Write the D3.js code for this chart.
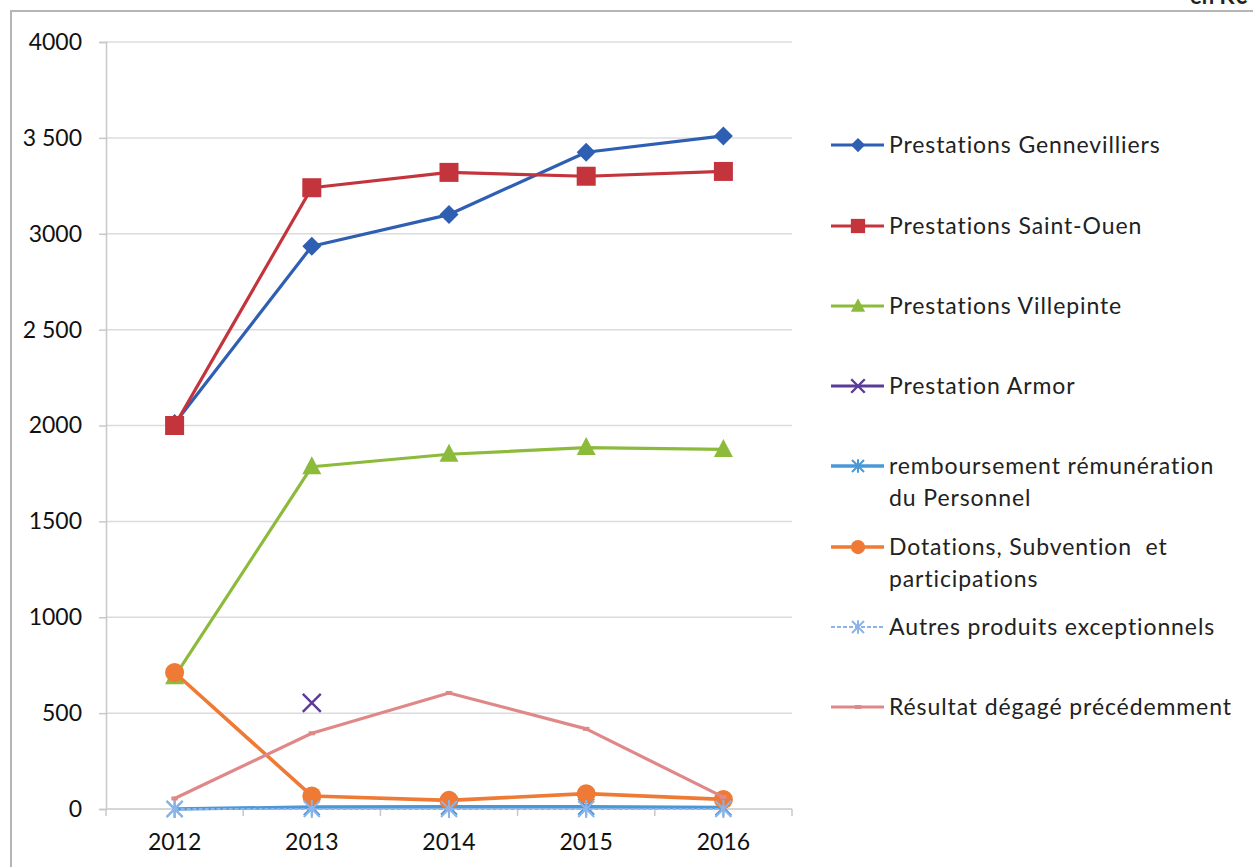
<!DOCTYPE html>
<html lang="fr">
<head>
<meta charset="utf-8">
<script src="https://cdn.jsdelivr.net/npm/d3@7"></script>
<style>
  html, body { margin: 0; padding: 0; background: #fff; }
  svg { display: block; font-family: Lato, "Open Sans", sans-serif; }
</style>
</head>
<body>
<svg id="chart" width="1253" height="867"></svg>
<script>
// Years on the category axis
const years = ["2012", "2013", "2014", "2015", "2016"];

// Values in K€
const gennevilliers = [2010, 2935, 3100, 3425, 3510];
const saintOuen     = [2000, 3240, 3320, 3300, 3325];
const villepinte    = [690, 1785, 1850, 1885, 1875];
const armor         = [null, 553, null, null, null];
const remboursement = [0, 10, 12, 12, 8];
const dotations     = [712, 68, 45, 80, 50];
const autresProduits = [0, 0, 0, 0, 0];
const resultat      = [55, 395, 605, 418, 62];

// Y axis tick values and their printed labels
const yTicks = [0, 500, 1000, 1500, 2000, 2500, 3000, 3500, 4000];
const yTickLabels = ["0", "500", "1000", "1500", "2000", "2 500", "3000", "3 500", "4000"];

const seriesNames = [
  ["Prestations Gennevilliers"],
  ["Prestations Saint-Ouen"],
  ["Prestations Villepinte"],
  ["Prestation Armor"],
  ["remboursement rémunération", "du Personnel"],
  ["Dotations, Subvention  et", "participations"],
  ["Autres produits exceptionnels"],
  ["Résultat dégagé précédemment"]
];
const seriesValues = [gennevilliers, saintOuen, villepinte, armor, remboursement, dotations, autresProduits, resultat];

// Styling per series
const styles = [
  { color: "#2f5fb3", marker: "diamond", width: 3.2 },
  { color: "#c4343c", marker: "square", width: 3.2 },
  { color: "#8cbb3c", marker: "triangle", width: 3.2 },
  { color: "#5b3a9a", marker: "cross", width: 3.2 },
  { color: "#4a98d8", marker: "asterisk", width: 3.5 },
  { color: "#ef7a35", marker: "circle", width: 3.6 },
  { color: "#8db4e8", marker: "asterisk", width: 2, dash: "4,2" },
  { color: "#e08888", marker: "dash", width: 3.2 }
];

const svg = d3.select("#chart");

// Outer frame (partially visible)
svg.append("line").attr("x1", 10).attr("x2", 1253).attr("y1", 11).attr("y2", 11)
  .attr("stroke", "#b5b5b5").attr("stroke-width", 2);
svg.append("line").attr("x1", 11).attr("x2", 11).attr("y1", 11).attr("y2", 867)
  .attr("stroke", "#b5b5b5").attr("stroke-width", 2);

// Unit label at top right, clipped by the page edge
svg.append("text").attr("x", 1190).attr("y", 4)
  .attr("font-size", 22).attr("font-weight", "bold").attr("fill", "#222")
  .text("en K€");

const plot = { left: 106, right: 792, top: 42, bottom: 809 };

const x = d3.scaleBand().domain(years).range([plot.left, plot.right]);
const xc = d => x(d) + x.bandwidth() / 2;
const y = d3.scaleLinear().domain([0, 4000]).range([plot.bottom, plot.top]);

// Horizontal gridlines
svg.append("g").selectAll("line").data(yTicks.filter(t => t > 0)).join("line")
  .attr("x1", plot.left).attr("x2", plot.right)
  .attr("y1", d => y(d)).attr("y2", d => y(d))
  .attr("stroke", "#dcdcdc").attr("stroke-width", 1.5);

// Y axis
const yAxis = svg.append("g").attr("transform", `translate(${plot.left},0)`)
  .call(d3.axisLeft(y).tickValues(yTicks).tickSize(7).tickPadding(17)
    .tickFormat((d, i) => yTickLabels[i]));
yAxis.select(".domain").attr("stroke", "#c8c8c8").attr("stroke-width", 1.5);
yAxis.selectAll(".tick line").attr("stroke", "#c8c8c8").attr("stroke-width", 1.5);
yAxis.selectAll("text").attr("font-size", 23).attr("fill", "#111")
  .attr("font-family", "Lato, sans-serif");

// X axis with tick marks between categories
const xAxisG = svg.append("g").attr("transform", `translate(0,${plot.bottom})`);
xAxisG.append("line").attr("x1", plot.left).attr("x2", plot.right)
  .attr("stroke", "#c8c8c8").attr("stroke-width", 1.5);
const bounds = years.map(d => x(d)).concat([plot.right]);
xAxisG.selectAll("line.tk").data(bounds).join("line").attr("class", "tk")
  .attr("x1", d => d).attr("x2", d => d).attr("y1", 0).attr("y2", 7)
  .attr("stroke", "#c8c8c8").attr("stroke-width", 1.5);
xAxisG.selectAll("text").data(years).join("text")
  .attr("x", d => xc(d)).attr("y", 41).attr("text-anchor", "middle")
  .attr("font-size", 23).attr("fill", "#111").text(d => d);

// Marker drawing
function drawMarker(g, type, color, cx, cy, scale = 1) {
  const s = scale;
  switch (type) {
    case "diamond":
      g.append("path").attr("d", `M${cx},${cy - 9.5 * s}L${cx + 9.5 * s},${cy}L${cx},${cy + 9.5 * s}L${cx - 9.5 * s},${cy}Z`)
        .attr("fill", color);
      break;
    case "square":
      g.append("rect").attr("x", cx - 9.5 * s).attr("y", cy - 9.5 * s)
        .attr("width", 19 * s).attr("height", 19 * s).attr("fill", color);
      break;
    case "triangle":
      g.append("path").attr("d", `M${cx},${cy - 10.5 * s}L${cx + 9.5 * s},${cy + 7.5 * s}L${cx - 9.5 * s},${cy + 7.5 * s}Z`)
        .attr("fill", color);
      break;
    case "cross":
      g.append("path").attr("d", `M${cx - 9 * s},${cy - 9 * s}L${cx + 9 * s},${cy + 9 * s}M${cx + 9 * s},${cy - 9 * s}L${cx - 9 * s},${cy + 9 * s}`)
        .attr("stroke", color).attr("stroke-width", 2.4).attr("fill", "none");
      break;
    case "asterisk":
      g.append("path").attr("d", `M${cx - 8 * s},${cy - 8 * s}L${cx + 8 * s},${cy + 8 * s}M${cx + 8 * s},${cy - 8 * s}L${cx - 8 * s},${cy + 8 * s}M${cx},${cy - 9 * s}L${cx},${cy + 9 * s}`)
        .attr("stroke", color).attr("stroke-width", 2).attr("fill", "none");
      break;
    case "circle":
      g.append("circle").attr("cx", cx).attr("cy", cy).attr("r", 9.5 * s).attr("fill", color);
      break;
    case "dash":
      g.append("line").attr("x1", cx - 4 * s).attr("x2", cx + 4 * s).attr("y1", cy).attr("y2", cy)
        .attr("stroke", color).attr("stroke-width", 4);
      break;
  }
}

// Lines and markers, series drawn in order
const line = d3.line().defined(d => d.v != null).x(d => xc(d.year)).y(d => y(d.v));
const seriesG = svg.append("g");
seriesValues.forEach((vals, i) => {
  const st = styles[i];
  const pts = years.map((yr, j) => ({ year: yr, v: vals[j] }));
  const g = seriesG.append("g");
  g.append("path").datum(pts).attr("d", line)
    .attr("fill", "none").attr("stroke", st.color).attr("stroke-width", st.width)
    .attr("stroke-linejoin", "round")
    .attr("stroke-dasharray", st.dash || null);
  pts.filter(p => p.v != null).forEach(p => {
    drawMarker(g, st.marker, st.color, xc(p.year), y(p.v), st.marker === "dash" ? 0.8 : 1);
  });
});

// Legend
const legendRows = [145, 226, 306, 386, 466, 547, 627, 707];
const legend = svg.append("g");
seriesNames.forEach((lines, i) => {
  const st = styles[i];
  const ly = legendRows[i];
  const g = legend.append("g");
  g.append("line").attr("x1", 831).attr("x2", 884).attr("y1", ly).attr("y2", ly)
    .attr("stroke", st.color).attr("stroke-width", st.width)
    .attr("stroke-dasharray", st.dash || null);
  drawMarker(g, st.marker, st.color, 858, ly, st.marker === "dash" ? 0.8 : 0.75);
  lines.forEach((t, k) => {
    g.append("text").attr("x", 889).attr("y", ly + 8 + k * 32)
      .attr("font-size", 23).attr("letter-spacing", 0.9).attr("fill", "#222")
      .attr("xml:space", "preserve")
      .style("white-space", "pre").text(t);
  });
});
</script>
</body>
</html>
